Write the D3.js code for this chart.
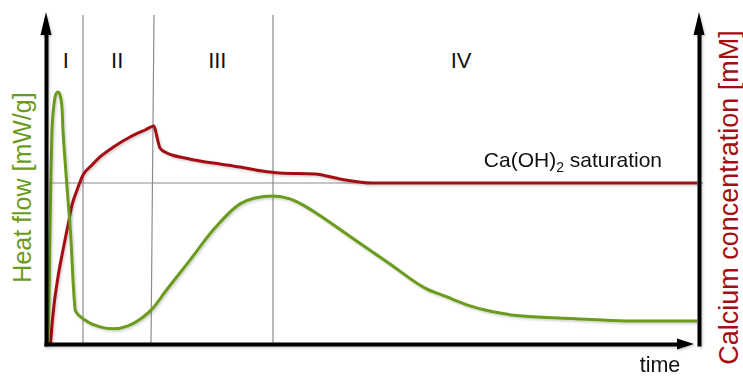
<!DOCTYPE html>
<html>
<head>
<meta charset="utf-8">
<script src="https://cdn.jsdelivr.net/npm/d3@7"></script>
<style>
  html, body { margin: 0; padding: 0; background: #fff; }
  svg { display: block; font-family: "Liberation Sans", Arial, sans-serif; }
</style>
</head>
<body>
<svg id="chart" width="743" height="376"></svg>
<script>
// Hydration stages of cement: heat flow and calcium concentration over time (arbitrary time units 0-100)
const stageNames = ["I", "II", "III", "IV"];
const stageLabelTime = [2.9, 10.8, 26.2, 63.7];
const stageBoundTop = [5.54, 16.46, 34.77];
const stageBoundBottom = [5.54, 16.0, 34.77];

// Heat flow [mW/g]
const heatTime = [0.08, 0.31, 0.46, 0.62, 0.77, 1.08, 1.38, 1.69, 2.0, 2.31, 2.46, 2.77, 3.23, 3.69, 4.0, 4.38,
  5.85, 8.15, 10.15, 12.46, 14.6, 16.15, 18.15, 22.0, 25.85, 29.7, 32.0, 34.77, 37.38, 39.69, 41.38,
  46.62, 52.77, 58.15, 61.54, 65.08, 69.69, 73.08, 81.23, 88.92, 100];
const heatFlow = [0, 1.34, 3.47, 5.29, 6.50, 7.29, 7.60, 7.66, 7.57, 7.17, 6.50, 5.59, 4.38, 3.16, 1.95, 1.00,
  0.73, 0.52, 0.46, 0.55, 0.79, 1.06, 1.58, 2.55, 3.53, 4.26, 4.44, 4.50, 4.41, 4.19, 3.98,
  3.27, 2.43, 1.70, 1.43, 1.16, 0.94, 0.85, 0.77, 0.70, 0.70];

// Calcium concentration [mM]
const caTime = [0.54, 0.77, 1.08, 1.69, 2.46, 3.23, 3.85, 4.62, 5.54, 6.92, 8.15, 10.46, 12.77, 15.08, 16.46,
  16.92, 17.38, 18.15, 19.23, 21.23, 23.54, 26.62, 29.69, 33.08, 35.85, 41.23, 45.08, 50.0, 100];
const caConc = [0, 2.60, 5.33, 9.16, 12.86, 16.28, 19.01, 21.06, 23.12, 24.48, 25.58, 27.08, 28.31, 29.27, 29.82,
  28.31, 26.81, 26.26, 25.85, 25.44, 25.03, 24.62, 24.21, 23.66, 23.39, 23.25, 22.57, 22.02, 22.02];

// Ca(OH)2 saturation level [mM]
const saturation = 22.02;

const GREEN = "#6b9b1c";
const RED = "#a30f12";

const plotLeft = 46, plotRight = 699, plotTop = 15, plotBottom = 344;

const svg = d3.select("#chart");

const defs = svg.append("defs");
const shadow = defs.append("filter").attr("id", "shadow")
  .attr("x", "-10%").attr("y", "-10%").attr("width", "120%").attr("height", "120%");
shadow.append("feDropShadow")
  .attr("dx", 1.2).attr("dy", 1.5).attr("stdDeviation", 1)
  .attr("flood-color", "#000").attr("flood-opacity", 0.2);

const x = d3.scaleLinear().domain([0, 100]).range([plotLeft + 1, plotRight - 2]);
const yHeat = d3.scaleLinear().domain([0, 10]).range([plotBottom, plotTop]);
const yCa = d3.scaleLinear().domain([0, 45]).range([plotBottom, plotTop]);

// top frame line
svg.append("line")
  .attr("x1", plotLeft).attr("x2", plotRight + 1)
  .attr("y1", plotTop).attr("y2", plotTop)
  .attr("stroke", "#4a4a4a").attr("stroke-width", 2)
  .attr("filter", "url(#shadow)");

// stage boundaries
svg.append("g").selectAll("line")
  .data(stageBoundTop)
  .join("line")
  .attr("x1", d => x(d))
  .attr("x2", (d, i) => x(stageBoundBottom[i]))
  .attr("y1", plotTop)
  .attr("y2", plotBottom)
  .attr("stroke", "#8c8c8c")
  .attr("stroke-width", 1.2);

// saturation level
svg.append("line")
  .attr("x1", x(0) + 2).attr("x2", plotRight + 4)
  .attr("y1", yCa(saturation)).attr("y2", yCa(saturation))
  .attr("stroke", "#8c8c8c").attr("stroke-width", 1.2);

// stage labels
svg.append("g").selectAll("text")
  .data(stageNames)
  .join("text")
  .attr("x", (d, i) => x(stageLabelTime[i]))
  .attr("y", 68)
  .attr("text-anchor", "middle")
  .attr("font-size", 22)
  .attr("fill", "#111")
  .text(d => d);

// curves
const heatLine = d3.line()
  .x((d, i) => x(heatTime[i]))
  .y(d => yHeat(d))
  .curve(d3.curveMonotoneX);

const caLine = d3.line()
  .x((d, i) => x(caTime[i]))
  .y(d => yCa(d))
  .curve(d3.curveMonotoneX);

svg.append("path")
  .attr("d", caLine(caConc))
  .attr("fill", "none")
  .attr("stroke", RED)
  .attr("stroke-width", 3)
  .attr("stroke-linejoin", "round")
  .attr("filter", "url(#shadow)");

svg.append("path")
  .attr("d", heatLine(heatFlow))
  .attr("fill", "none")
  .attr("stroke", GREEN)
  .attr("stroke-width", 3)
  .attr("stroke-linejoin", "round")
  .attr("filter", "url(#shadow)");

// axes (no ticks, just the thick lines)
const axisG = svg.append("g").attr("filter", "url(#shadow)");

axisG.append("g")
  .attr("transform", `translate(${plotLeft},0)`)
  .call(d3.axisLeft(d3.scaleLinear().domain([0, 1]).range([plotBottom + 2, plotTop + 8])).tickValues([]).tickSizeOuter(0));

axisG.append("g")
  .attr("transform", `translate(${plotRight},0)`)
  .call(d3.axisRight(d3.scaleLinear().domain([0, 1]).range([plotBottom + 2, plotTop + 8])).tickValues([]).tickSizeOuter(0));

axisG.append("g")
  .attr("transform", `translate(0,${plotBottom})`)
  .call(d3.axisBottom(d3.scaleLinear().domain([0, 1]).range([plotLeft - 2, plotRight - 14])).tickValues([]).tickSizeOuter(0));

axisG.selectAll(".domain")
  .attr("stroke", "#000")
  .attr("stroke-width", 4);

// arrowheads
const heads = [
  `M${plotLeft},${plotTop - 3} L${plotLeft - 5.5},${plotTop + 20} L${plotLeft + 5.5},${plotTop + 20} Z`,
  `M${plotRight},${plotTop - 3} L${plotRight - 5.5},${plotTop + 20} L${plotRight + 5.5},${plotTop + 20} Z`,
  `M${plotRight - 5},${plotBottom} L${plotRight - 22},${plotBottom - 5.5} L${plotRight - 22},${plotBottom + 5.5} Z`
];
axisG.selectAll("path.head")
  .data(heads)
  .join("path")
  .attr("class", "head")
  .attr("d", d => d)
  .attr("fill", "#000");

// saturation label
const sat = svg.append("text")
  .attr("x", x(100) - 35)
  .attr("y", yCa(saturation) - 16)
  .attr("text-anchor", "end")
  .attr("font-size", 21)
  .attr("fill", "#111");
sat.append("tspan").text("Ca(OH)");
sat.append("tspan").attr("font-size", 14).attr("dy", 5).text("2");
sat.append("tspan").attr("dy", -5).text(" saturation");

// axis titles
svg.append("text")
  .attr("transform", `translate(31,${(93 + 282) / 2}) rotate(-90)`)
  .attr("text-anchor", "middle")
  .attr("font-size", 25)
  .attr("fill", GREEN)
  .text("Heat flow [mW/g]");

svg.append("text")
  .attr("transform", `translate(738,${(30 + 365) / 2}) rotate(-90)`)
  .attr("text-anchor", "middle")
  .attr("font-size", 27)
  .attr("fill", RED)
  .text("Calcium concentration [mM]");

svg.append("text")
  .attr("x", 660)
  .attr("y", 372)
  .attr("text-anchor", "middle")
  .attr("font-size", 21.5)
  .attr("fill", "#111")
  .text("time");
</script>
</body>
</html>
